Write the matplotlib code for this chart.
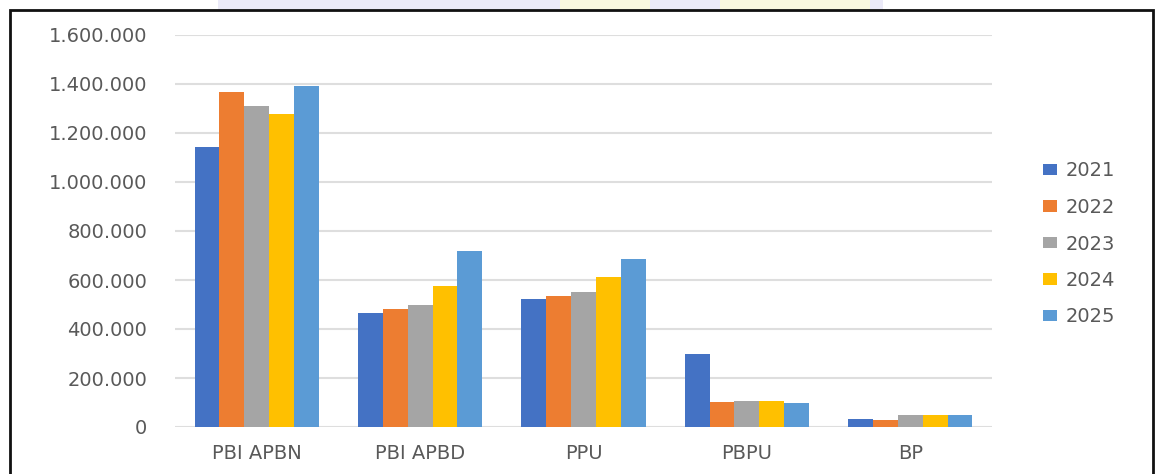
import matplotlib.pyplot as plt
import matplotlib.patches as mpatches
import numpy as np

# data
categories = ['PBI APBN', 'PBI APBD', 'PPU', 'PBPU', 'BP']
years = ['2021', '2022', '2023', '2024', '2025']
v2021 = [1143000, 467000, 522000, 297000, 34000]
v2022 = [1367000, 480000, 533000, 103000, 27000]
v2023 = [1310000, 498000, 551000, 107000, 48000]
v2024 = [1278000, 576000, 613000, 107000, 48000]
v2025 = [1392000, 720000, 686000, 99000, 50000]
series = [v2021, v2022, v2023, v2024, v2025]
colors = ['#4472c4', '#ed7d31', '#a5a5a5', '#ffc000', '#5b9bd5']
yticks = [0, 200000, 400000, 600000, 800000, 1000000, 1200000, 1400000, 1600000]

W, H = 1160, 474
fig = plt.figure(figsize=(W / 100, H / 100), dpi=100)
fig.patch.set_facecolor('white')

# faint watermark strip peeking above the frame
fig.patches.append(mpatches.Rectangle((218 / W, 1 - 10 / H), (883 - 218) / W, 10 / H,
                                      transform=fig.transFigure, facecolor='#ebeaf8',
                                      edgecolor='none', zorder=0))
fig.patches.append(mpatches.Rectangle((560 / W, 1 - 10 / H), 90 / W, 10 / H,
                                      transform=fig.transFigure, facecolor='#f9f8e0',
                                      edgecolor='none', zorder=0))
fig.patches.append(mpatches.Rectangle((720 / W, 1 - 10 / H), 150 / W, 10 / H,
                                      transform=fig.transFigure, facecolor='#f9f8e0',
                                      edgecolor='none', zorder=0))
# black frame around the chart
fig.patches.append(mpatches.Rectangle((10 / W, -0.05), (1153 - 10) / W, 1.05 - 10 / H,
                                      transform=fig.transFigure, facecolor='white',
                                      edgecolor='#111111', linewidth=2, zorder=1))

ax = fig.add_axes([175 / W, 1 - 427 / H, (992 - 175) / W, (427 - 35) / H])
ax.set_zorder(2)
ax.patch.set_alpha(0)

x = np.arange(len(categories))
bw = 0.152
for i, vals in enumerate(series):
    ax.bar(x + (i - 2) * bw, vals, width=bw, color=colors[i], label=years[i], zorder=3)

ax.set_xlim(-0.5, len(categories) - 0.5)
ax.set_ylim(0, 1600000)
ax.set_yticks(yticks)
ax.set_yticklabels(['{:,}'.format(t).replace(',', '.') for t in yticks])
ax.set_xticks(x)
ax.set_xticklabels(categories)
ax.grid(axis='y', color='#dedede', linewidth=1.5, zorder=0)
ax.set_axisbelow(True)
for s in ['top', 'right', 'left', 'bottom']:
    ax.spines[s].set_visible(False)
ax.tick_params(axis='both', length=0, labelsize=14, colors='#595959')
ax.tick_params(axis='y', pad=20)
ax.tick_params(axis='x', pad=12)

ax.legend(loc='center left', bbox_to_anchor=(1025 / W, 1 - 244 / H),
          bbox_transform=fig.transFigure, frameon=False, fontsize=14,
          labelcolor='#595959', handlelength=0.75, handleheight=0.55,
          handletextpad=0.45, labelspacing=0.9)

fig.savefig('out.png', dpi=100)
